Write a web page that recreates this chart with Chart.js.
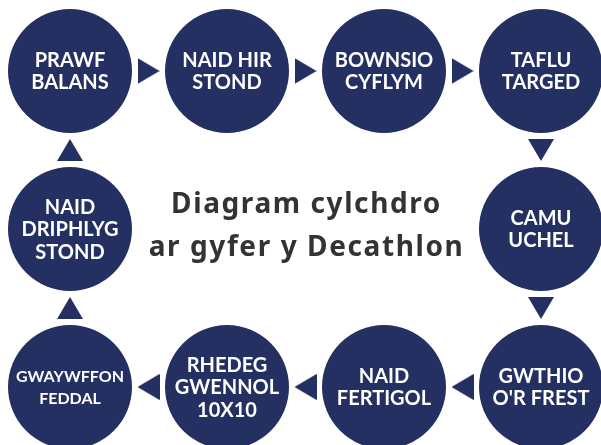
<!DOCTYPE html>
<html>
<head>
<meta charset="utf-8">
<script src="https://cdn.jsdelivr.net/npm/chart.js@4.4.1/dist/chart.umd.min.js"></script>
<style>
  html, body { margin: 0; padding: 0; background: #fff; }
  #wrap { width: 601px; height: 445px; }
</style>
</head>
<body>
<div id="wrap"><canvas id="cycleChart" width="601" height="445"></canvas></div>
<script>
// Stations of the decathlon rotation, in the order the arrows run
const stationLabels = [
    ['PRAWF', 'BALANS'],
    ['NAID HIR', 'STOND'],
    ['BOWNSIO', 'CYFLYM'],
    ['TAFLU', 'TARGED'],
    ['CAMU', 'UCHEL'],
    ['GWTHIO', "O'R FREST"],
    ['NAID', 'FERTIGOL'],
    ['RHEDEG', 'GWENNOL', '10X10'],
    ['GWAYWFFON', 'FEDDAL'],
    ['NAID', 'DRIPHLYG', 'STOND']
];
// grid column / row of each station
const stationCols = [0, 1, 2, 3, 3, 3, 2, 1, 0, 0];
const stationRows = [0, 0, 0, 0, 1, 2, 2, 2, 2, 1];
const titleLines = ['Diagram cylchdro', 'ar gyfer y Decathlon'];

const NAVY = '#242f62';

const stationPoints = stationCols.map((c, i) => ({ x: c, y: stationRows[i] }));
// one arrow half way between each station and the next one
const arrowPoints = stationPoints.map((p, i) => {
    const n = stationPoints[(i + 1) % stationPoints.length];
    return { x: (p.x + n.x) / 2, y: (p.y + n.y) / 2 };
});
const arrowAngles = stationPoints.map((p, i) => {
    const n = stationPoints[(i + 1) % stationPoints.length];
    return Math.atan2(n.y - p.y, n.x - p.x) * 180 / Math.PI;
});

// right-pointing triangle, centred in its own box
const arrowImg = document.createElement('canvas');
arrowImg.width = 22;
arrowImg.height = 26;
(function () {
    const c = arrowImg.getContext('2d');
    c.fillStyle = NAVY;
    c.beginPath();
    c.moveTo(0, 0);
    c.lineTo(22, 13);
    c.lineTo(0, 26);
    c.closePath();
    c.fill();
})();

const textPlugin = {
    id: 'stationText',
    afterDatasetsDraw(chart) {
        const ctx = chart.ctx;
        const meta = chart.getDatasetMeta(0);
        ctx.save();
        ctx.textAlign = 'center';
        ctx.textBaseline = 'alphabetic';
        ctx.fillStyle = '#ffffff';
        meta.data.forEach((pt, i) => {
            const lines = stationLabels[i];
            let size = 20;
            ctx.font = `bold ${size}px Lato`;
            const widest = () => Math.max(...lines.map(l => ctx.measureText(l).width));
            while (widest() > 108 && size > 10) {
                size -= 0.5;
                ctx.font = `bold ${size}px Lato`;
            }
            const lh = 22.5;
            const cap = size * 0.72;
            const first = pt.y - (lines.length - 1) * lh / 2 + cap / 2;
            lines.forEach((l, j) => ctx.fillText(l, pt.x, first + j * lh));
        });

        // title in the middle of the ring
        const cx = chart.scales.x.getPixelForValue(1.5);
        const cy = chart.scales.y.getPixelForValue(1);
        ctx.fillStyle = '#333333';
        ctx.font = 'bold 28px "Noto Sans"';
        if ('letterSpacing' in ctx) ctx.letterSpacing = '1.6px';
        ctx.fillText(titleLines[0], cx + 1, cy - 16);
        ctx.fillText(titleLines[1], cx + 1, cy + 27);
        ctx.restore();
    }
};

new Chart(document.getElementById('cycleChart'), {
    type: 'scatter',
    data: {
        datasets: [{
            label: 'stations',
            data: stationPoints,
            pointRadius: 62,
            pointHoverRadius: 62,
            pointBackgroundColor: NAVY,
            pointBorderWidth: 0,
            pointBorderColor: NAVY,
            clip: false
        }, {
            label: 'arrows',
            data: arrowPoints,
            pointStyle: arrowImg,
            pointRadius: 13,
            pointRotation: arrowAngles,
            clip: false
        }]
    },
    options: {
        responsive: false,
        animation: false,
        events: [],
        layout: { padding: 0, autoPadding: false },
        plugins: {
            legend: { display: false },
            tooltip: { enabled: false }
        },
        scales: {
            x: { type: 'linear', display: false, min: -70 / 157, max: (601 - 70) / 157 },
            y: { type: 'linear', display: false, reverse: true, min: -71 / 158, max: (445 - 71) / 158 }
        }
    },
    plugins: [textPlugin]
});
</script>
</body>
</html>
